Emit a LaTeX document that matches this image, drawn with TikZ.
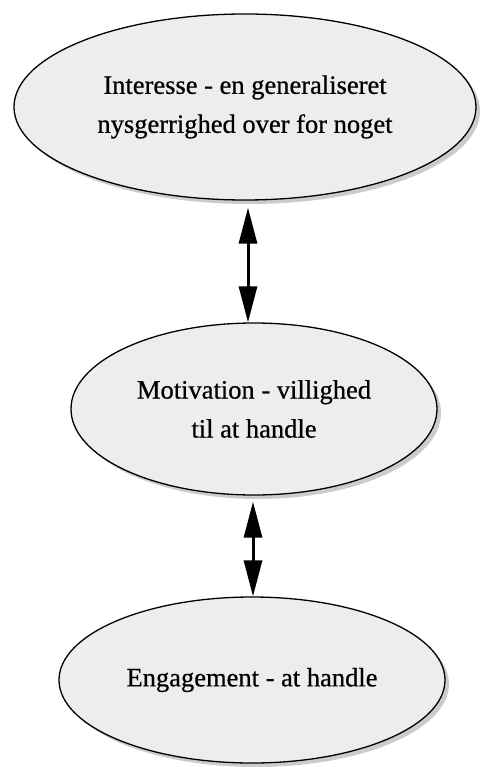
\documentclass[tikz,border=0pt]{standalone}
\usepackage{fontspec}
\setmainfont{Liberation Serif}[FakeBold=0.6]
\usetikzlibrary{shapes.geometric,arrows.meta,shadows}
\definecolor{ellfill}{HTML}{EDEDED}
\begin{document}
\begin{tikzpicture}[x=1pt,y=-1pt,
  ell/.style={ellipse,draw=black,line width=1.3pt,fill=ellfill,inner sep=0pt,
    align=center,font=\fontsize{26.5}{39}\selectfont,
    drop shadow={shadow xshift=4pt,shadow yshift=-4pt,fill=black!40}},
  dbl/.style={line width=3pt,{Triangle[length=36pt,width=18pt]}-{Triangle[length=36pt,width=18pt]}}]
\useasboundingbox (0,0) rectangle (479,767);
\node[ell,minimum width=462pt,minimum height=186pt] (top) at (245,107)
  {Interesse - en generaliseret\\nysgerrighed over for noget};
\node[ell,minimum width=366pt,minimum height=172pt] (mid) at (254,409)
  {Motivation - villighed\\til at handle};
\node[ell,minimum width=386pt,minimum height=166pt] (bot) at (252,680)
  {Engagement - at handle};
\coordinate (a1) at (248,0);
\coordinate (a2) at (253,0);
\draw[dbl,shorten <=7pt] (top.south -| a1) -- (mid.north -| a1);
\draw[dbl,shorten <=6pt] (mid.south -| a2) -- (bot.north -| a2);
\end{tikzpicture}
\end{document}
